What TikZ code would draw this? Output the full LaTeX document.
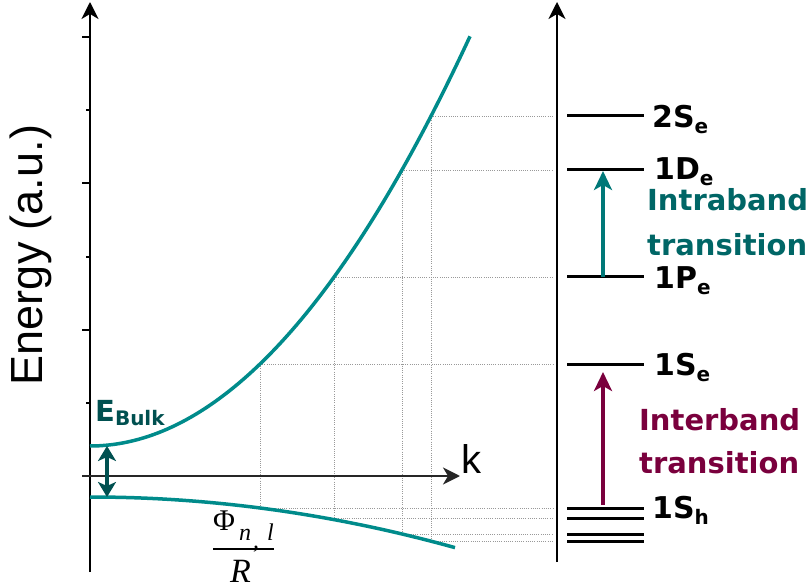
\documentclass[tikz,border=0pt]{standalone}
\usepackage{fontspec}
\setmainfont{DejaVu Sans}
\newfontfamily\arialf{Liberation Sans}
\newfontfamily\timesf{Liberation Serif}
\usetikzlibrary{arrows.meta}
\definecolor{curvecol}{RGB}{0,139,139}
\definecolor{intracol}{RGB}{0,102,102}
\definecolor{intraarrow}{RGB}{0,120,120}
\definecolor{bulkcol}{RGB}{0,80,80}
\definecolor{intercol}{RGB}{122,0,61}
\newcommand\sbx[2]{\raisebox{-#2}{\fontsize{20}{20}\selectfont #1}}
\begin{document}
\begin{tikzpicture}[x=1pt,y=-1pt,
  axisline/.style={line width=2.2pt, -{Stealth[length=17pt,width=17pt,inset=5pt]}},
  curve/.style={curvecol, line width=3.5pt},
  griddots/.style={gray!80, line width=0.9pt, dash pattern=on 1pt off 1.2pt},
  levelline/.style={line width=3pt},
  lbl/.style={anchor=base west, inner sep=0pt, font=\bfseries\fontsize{30}{30}\selectfont},
  trtext/.style={anchor=base west, inner sep=0pt, font=\bfseries\fontsize{29}{29}\selectfont},
  transarrow/.style={line width=3.3pt, -{Stealth[length=19pt,width=18pt,inset=5pt]}},
]
\useasboundingbox (0,0) rectangle (809,588);

% dotted construction lines
\foreach \xx/\yu/\yl in {260/364/508, 334/277/518, 402/170/534, 431/116/541} {
  \draw[griddots] (\xx,\yu) -- (\xx,\yl);
  \draw[griddots] (\xx,\yu) -- (553,\yu);
  \draw[griddots] (\xx,\yl) -- (553,\yl);
}

% left axes
\coordinate (yb) at (90,572); \coordinate (yt) at (90,2);
\draw[axisline] (yb) -- (yt);
\foreach \y in {37,183,330} \draw[line width=2.2pt] (82,\y) -- (90,\y);
\foreach \y in {110,257,403} \draw[line width=2.2pt] (86,\y) -- (90,\y);
\coordinate (kl) at (82,476); \coordinate (kr) at (460,476);
\draw[axisline, black!85] (kl) -- (kr);
\node[font=\arialf\fontsize{40}{40}\selectfont, anchor=west, inner sep=0pt] (k) at (461,459) {k};
\node[font=\arialf\fontsize{45}{45}\selectfont, rotate=90, inner sep=0pt] (ylab) at (31,255) {Energy (a.u.)};

% bands
\draw[curve] plot[domain=90:470, samples=80] (\x, {446-0.2837*((\x-90)/10)^2});
\draw[curve] plot[domain=90:455, samples=60] (\x, {497+0.038*((\x-90)/10)^2});

% band gap
\coordinate (gt) at (107,446); \coordinate (gb) at (107,497);
\draw[bulkcol, line width=3.2pt, {Stealth[length=15pt,width=18pt,inset=4pt]}-{Stealth[length=15pt,width=18pt,inset=4pt]}] (gt) -- (gb);
\node[anchor=base west, inner sep=0pt, text=bulkcol, font=\bfseries\fontsize{29}{29}\selectfont] (ebulk) at (95,421) {E\sbx{Bulk}{4pt}};

% k label fraction
\node[anchor=base west, inner sep=0pt, font=\timesf\fontsize{30}{30}\selectfont] (phi) at (213,530)
  {Φ\raisebox{-10pt}{\itshape\fontsize{24}{24}\selectfont \,n\hspace{2pt}\raisebox{-8pt}{,}\hspace{8pt}l}};
\coordinate (fbl) at (213,549); \coordinate (fbr) at (274,549);
\draw[line width=1.8pt] (fbl) -- (fbr);
\node[anchor=base west, inner sep=0pt, font=\timesf\itshape\fontsize{34}{34}\selectfont] (rr) at (230,582) {R};

% right axis and levels
\coordinate (rb) at (557,562); \coordinate (rt) at (557,2);
\draw[axisline] (rb) -- (rt);
\foreach \n/\y in {tS/116, tD/170, tP/277, tSe/364, h1/508, h2/518, h3/534, h4/541} {
  \coordinate (\n a) at (567,\y);
  \coordinate (\n b) at (644,\y);
  \draw[levelline] (\n a) -- (\n b);
}
\node[lbl] (l2s) at (652,128) {2S\sbx{e}{6pt}};
\node[lbl] (l1d) at (654,180) {1D\sbx{e}{6pt}};
\node[lbl] (l1p) at (654,288) {1P\sbx{e}{6pt}};
\node[lbl] (l1se) at (654,375) {1S\sbx{e}{6pt}};
\node[lbl] (l1sh) at (652,518) {1S\sbx{h}{6pt}};

% transitions
\coordinate (ia) at (603,277); \coordinate (ib) at (603,171);
\draw[transarrow, intraarrow] (ia) -- (ib);
\node[trtext, text=intracol] (intra1) at (647,211) {Intraband};
\node[trtext, text=intracol] (intra2) at (647,256) {transition};
\coordinate (ea) at (603,505); \coordinate (eb) at (603,372);
\draw[transarrow, intercol] (ea) -- (eb);
\node[trtext, text=intercol] (inter1) at (639,430) {Interband};
\node[trtext, text=intercol] (inter2) at (639,473) {transition};
\end{tikzpicture}
\end{document}
